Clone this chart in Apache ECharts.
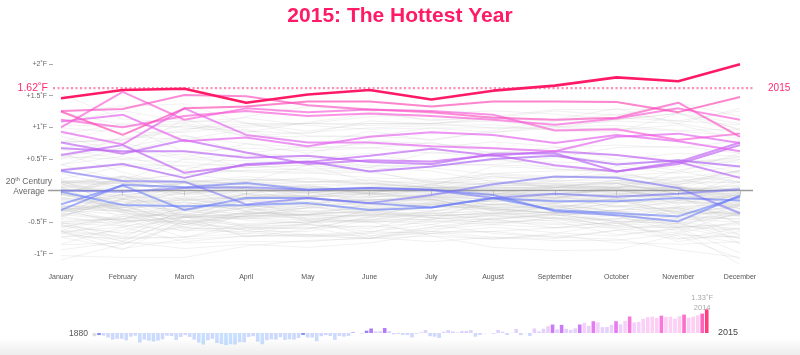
<!DOCTYPE html>
<html><head><meta charset="utf-8">
<script src="https://cdn.jsdelivr.net/npm/echarts@6/dist/echarts.min.js"></script>
<style>html,body{margin:0;padding:0;background:#fff}#c{width:800px;height:355px}</style>
</head><body><div id="c"></div>
<script>
// ---------- DATA (°F anomaly vs 20th-century average) ----------
const months = ['January','February','March','April','May','June','July','August','September','October','November','December'];
const tickValues = [-1, -0.5, 0, 0.5, 1, 1.5, 2];
const tickLabels = ['-1˚F', '-0.5˚F', '', '+0.5˚F', '+1˚F', '+1.5˚F', '+2˚F'];
const avgLabel = ['20', 'th', ' Century', 'Average'];
const avg2015 = 1.62;
const firstYear = 1880;
const calloutYear = 2014;

// annual anomalies 1880..2015
const annual = [
 -0.22,-0.14,-0.18,-0.31,-0.45,-0.40,-0.40,-0.50,-0.25,-0.18,
 -0.65,-0.45,-0.52,-0.58,-0.52,-0.43,-0.18,-0.20,-0.47,-0.27,
 -0.14,-0.27,-0.45,-0.65,-0.79,-0.50,-0.40,-0.68,-0.76,-0.83,
 -0.77,-0.79,-0.63,-0.63,-0.27,-0.22,-0.59,-0.77,-0.49,-0.43,
 -0.45,-0.29,-0.47,-0.43,-0.45,-0.34,-0.13,-0.31,-0.31,-0.56,
 -0.22,-0.14,-0.20,-0.47,-0.20,-0.25,-0.20,0.04,0.00,-0.04,
 0.16,0.31,0.11,0.13,0.34,0.13,-0.09,-0.07,-0.13,-0.14,
 -0.31,-0.05,0.05,0.20,-0.22,-0.25,-0.34,0.09,0.20,0.11,
 0.04,0.13,0.14,0.20,-0.25,-0.13,-0.02,0.00,-0.05,0.20,
 0.09,-0.14,0.02,0.27,-0.14,-0.02,-0.20,0.31,0.11,0.29,
 0.47,0.58,0.25,0.56,0.29,0.22,0.32,0.58,0.70,0.49,
 0.81,0.72,0.40,0.41,0.56,0.81,0.59,0.83,1.13,0.72,
 0.76,0.97,1.08,1.12,1.03,1.19,1.10,1.12,0.97,1.15,
 1.26,1.04,1.12,1.21,1.33,1.62
];

const highlightYears = [1881,1926,1937,1940,1941,1944,1981,1983,1987,1990,1995,1998,2005,2010,2014,2015];

// monthly values of highlighted (record) years
const y1881 = [0.00,-0.02,0.04,0.05,0.01,0.04,0.01,-0.12,-0.05,-0.10,-0.05,0.02];
const y1926 = [-0.02,-0.23,-0.25,-0.23,-0.20,-0.31,-0.27,-0.12,-0.31,-0.36,-0.41,-0.10];
const y1937 = [-0.31,0.09,0.05,0.12,0.01,0.04,0.01,-0.07,-0.33,-0.39,-0.49,-0.08];
const y1940 = [-0.22,0.08,-0.31,-0.12,-0.12,-0.20,-0.27,-0.12,-0.17,-0.17,-0.12,-0.16];
const y1941 = [0.31,0.15,0.14,-0.22,-0.12,-0.20,-0.07,0.10,0.22,0.20,0.04,-0.36];
const y1944 = [0.32,0.42,0.20,0.42,0.46,0.30,0.38,0.50,0.55,0.41,0.48,0.38];
const y1981 = [0.76,0.58,0.80,0.60,0.42,0.48,0.46,0.56,0.40,0.30,0.42,0.72];
const y1983 = [0.67,0.62,0.62,0.52,0.55,0.45,0.42,0.58,0.59,0.30,0.45,0.20];
const y1987 = [0.56,0.72,0.28,0.40,0.45,0.55,0.66,0.55,0.62,0.56,0.45,0.76];
const y1990 = [0.93,0.73,1.30,0.88,0.76,0.76,0.70,0.67,0.62,0.85,0.90,0.75];
const y1995 = [1.09,1.20,0.78,0.84,0.70,0.85,0.92,0.88,0.75,0.88,0.78,0.62];
const y1998 = [1.00,1.56,1.12,1.30,1.24,1.28,1.26,1.20,0.95,0.97,0.80,0.90];
const y2005 = [1.12,1.00,1.18,1.26,1.18,1.22,1.18,1.12,1.04,1.14,1.30,1.12];
const y2010 = [1.26,1.29,1.51,1.49,1.35,1.28,1.24,1.15,1.12,1.15,1.39,0.85];
const y2014 = [1.25,0.88,1.30,1.33,1.41,1.41,1.33,1.41,1.41,1.40,1.24,1.48];
const y2015 = [1.46,1.59,1.61,1.39,1.52,1.59,1.44,1.58,1.66,1.79,1.73,2.00];

// monthly values of the other years, by decade
const grey1880s = [
 [-0.05,-0.30,-0.18,-0.32,-0.16,-0.38,-0.34,-0.14,-0.24,-0.41,-0.36,-0.36],
 [0.14,0.11,0.05,-0.34,-0.24,-0.40,-0.47,-0.13,-0.20,-0.34,-0.31,-0.38],
 [-0.50,-0.76,-0.29,-0.38,-0.27,-0.14,-0.14,-0.32,-0.40,-0.32,-0.50,-0.34],
 [-0.25,-0.29,-0.58,-0.68,-0.54,-0.65,-0.54,-0.36,-0.38,-0.49,-0.52,-0.38],
 [-0.68,-0.50,-0.41,-0.58,-0.54,-0.61,-0.36,-0.32,-0.25,-0.23,-0.34,-0.04],
 [-0.54,-0.68,-0.58,-0.40,-0.38,-0.43,-0.18,-0.38,-0.25,-0.40,-0.47,-0.25],
 [-0.85,-0.58,-0.36,-0.47,-0.52,-0.32,-0.38,-0.45,-0.38,-0.59,-0.58,-0.54],
 [-0.58,-0.41,-0.54,-0.38,-0.27,-0.25,-0.16,-0.18,-0.14,0.07,0.00,-0.11],
 [-0.14,0.22,0.05,0.02,-0.02,-0.18,-0.14,-0.29,-0.36,-0.52,-0.58,-0.52]
];
const grey1890s = [
 [-0.52,-0.56,-0.63,-0.65,-0.65,-0.47,-0.54,-0.68,-0.74,-0.63,-0.77,-0.59],
 [-0.63,-0.72,-0.40,-0.45,-0.38,-0.40,-0.34,-0.36,-0.25,-0.41,-0.59,-0.20],
 [-0.32,-0.22,-0.59,-0.61,-0.59,-0.56,-0.65,-0.43,-0.38,-0.49,-0.81,-0.65],
 [-1.10,-0.85,-0.54,-0.58,-0.61,-0.43,-0.36,-0.47,-0.52,-0.45,-0.50,-0.61],
 [-0.63,-0.41,-0.38,-0.56,-0.47,-0.72,-0.58,-0.45,-0.59,-0.49,-0.45,-0.50],
 [-0.68,-0.79,-0.43,-0.36,-0.38,-0.31,-0.27,-0.25,-0.29,-0.25,-0.41,-0.31],
 [-0.25,-0.25,-0.50,-0.41,-0.23,-0.11,0.02,-0.04,-0.11,0.04,-0.22,-0.07],
 [-0.29,-0.27,-0.23,-0.05,-0.09,-0.22,-0.14,-0.18,-0.13,-0.25,-0.29,-0.36],
 [0.02,-0.45,-0.74,-0.52,-0.50,-0.38,-0.40,-0.36,-0.45,-0.61,-0.67,-0.49],
 [-0.27,-0.49,-0.43,-0.23,-0.34,-0.36,-0.27,-0.14,-0.07,-0.07,0.09,-0.34]
];
const grey1900s = [
 [-0.41,-0.14,-0.05,-0.13,-0.18,-0.09,-0.11,-0.07,-0.05,0.04,-0.14,-0.11],
 [-0.25,-0.22,-0.09,-0.14,-0.22,-0.22,-0.20,-0.27,-0.34,-0.32,-0.45,-0.38],
 [-0.20,-0.07,-0.38,-0.41,-0.43,-0.50,-0.49,-0.54,-0.43,-0.56,-0.59,-0.76],
 [-0.40,-0.16,-0.50,-0.72,-0.72,-0.76,-0.65,-0.74,-0.79,-0.79,-0.68,-0.83],
 [-0.86,-0.83,-0.83,-0.81,-0.81,-0.74,-0.81,-0.74,-0.76,-0.63,-0.52,-0.70],
 [-0.54,-0.81,-0.41,-0.54,-0.50,-0.50,-0.45,-0.40,-0.43,-0.56,-0.27,-0.50],
 [-0.38,-0.47,-0.29,-0.14,-0.45,-0.38,-0.43,-0.34,-0.45,-0.40,-0.65,-0.34],
 [-0.65,-0.85,-0.50,-0.63,-0.74,-0.68,-0.65,-0.65,-0.59,-0.50,-0.76,-0.72],
 [-0.65,-0.58,-0.81,-0.72,-0.70,-0.65,-0.68,-0.77,-0.70,-0.83,-0.85,-0.81],
 [-0.94,-0.81,-0.92,-0.85,-0.90,-0.83,-0.68,-0.58,-0.67,-0.72,-0.59,-0.99]
];
const grey1910s = [
 [-0.72,-0.76,-0.74,-0.68,-0.70,-0.72,-0.68,-0.65,-0.74,-0.77,-0.94,-1.06],
 [-1.03,-1.06,-1.06,-0.88,-0.79,-0.76,-0.72,-0.77,-0.68,-0.52,-0.40,-0.45],
 [-0.59,-0.38,-0.65,-0.38,-0.45,-0.49,-0.72,-0.90,-0.95,-0.94,-0.70,-0.74],
 [-0.65,-0.74,-0.74,-0.59,-0.70,-0.76,-0.61,-0.54,-0.59,-0.58,-0.38,-0.25],
 [0.02,-0.36,-0.40,-0.45,-0.27,-0.32,-0.27,-0.22,-0.29,-0.11,-0.25,-0.23],
 [-0.41,-0.13,-0.40,-0.14,-0.11,-0.23,-0.09,-0.23,-0.23,-0.32,-0.16,-0.23],
 [-0.22,-0.34,-0.61,-0.59,-0.58,-0.76,-0.58,-0.50,-0.54,-0.52,-0.72,-1.08],
 [-0.74,-0.92,-0.77,-0.72,-0.72,-0.67,-0.45,-0.40,-0.49,-0.70,-0.61,-1.17],
 [-0.74,-0.63,-0.41,-0.74,-0.61,-0.41,-0.40,-0.36,-0.27,-0.16,-0.34,-0.36],
 [-0.31,-0.38,-0.41,-0.27,-0.49,-0.47,-0.36,-0.40,-0.34,-0.34,-0.58,-0.63]
];
const grey1920s = [
 [-0.27,-0.34,-0.31,-0.43,-0.47,-0.50,-0.40,-0.38,-0.34,-0.49,-0.52,-0.76],
 [-0.05,-0.32,-0.43,-0.41,-0.38,-0.32,-0.18,-0.27,-0.27,-0.13,-0.29,-0.23],
 [-0.56,-0.68,-0.32,-0.43,-0.52,-0.45,-0.47,-0.50,-0.47,-0.45,-0.25,-0.40],
 [-0.41,-0.56,-0.47,-0.63,-0.52,-0.31,-0.43,-0.47,-0.36,-0.18,-0.16,-0.07],
 [-0.29,-0.54,-0.27,-0.34,-0.36,-0.34,-0.43,-0.52,-0.43,-0.45,-0.34,-0.70],
 [-0.52,-0.50,-0.29,-0.25,-0.47,-0.36,-0.40,-0.20,-0.31,-0.20,0.04,0.02],
 [-0.29,-0.22,-0.52,-0.36,-0.38,-0.34,-0.22,-0.31,-0.20,-0.07,-0.09,-0.54],
 [0.05,-0.31,-0.54,-0.40,-0.40,-0.40,-0.23,-0.29,-0.36,-0.25,-0.20,-0.22],
 [-0.65,-0.94,-0.47,-0.56,-0.54,-0.58,-0.50,-0.45,-0.40,-0.31,-0.27,-0.85]
];
const grey1930s = [
 [-0.38,-0.27,-0.14,-0.25,-0.29,-0.18,-0.22,-0.13,-0.16,-0.14,0.05,-0.09],
 [-0.05,-0.27,-0.11,-0.25,-0.25,-0.02,0.02,-0.07,-0.11,-0.05,-0.20,-0.05],
 [0.18,-0.31,-0.27,-0.05,-0.22,-0.29,-0.23,-0.16,-0.05,-0.11,-0.38,-0.23],
 [-0.45,-0.47,-0.50,-0.34,-0.40,-0.47,-0.32,-0.29,-0.36,-0.38,-0.56,-0.61],
 [-0.34,-0.05,-0.43,-0.27,-0.13,-0.16,-0.11,-0.13,-0.20,-0.09,-0.09,-0.16],
 [-0.45,0.11,-0.29,-0.38,-0.32,-0.29,-0.22,-0.22,-0.20,-0.14,-0.36,-0.25],
 [-0.36,-0.45,-0.25,-0.18,-0.14,-0.16,-0.07,-0.09,-0.07,-0.04,-0.07,0.00],
 [0.16,0.13,0.11,0.05,-0.09,-0.11,-0.05,-0.05,0.04,0.16,0.00,-0.38],
 [-0.07,-0.07,-0.23,-0.11,-0.07,-0.05,-0.04,-0.05,-0.05,0.00,0.04,0.25]
];
const grey1940s = [
 [0.27,0.04,0.11,0.14,0.09,0.11,0.04,0.02,0.07,0.11,0.14,0.13],
 [-0.04,0.14,-0.05,0.11,0.05,-0.05,0.11,0.09,0.16,0.38,0.27,0.38],
 [0.13,-0.07,0.04,0.13,0.04,0.02,0.07,0.38,0.34,0.31,0.07,-0.20],
 [0.05,0.02,-0.05,0.04,-0.22,-0.27,-0.09,-0.13,-0.05,-0.09,-0.05,-0.29],
 [-0.16,-0.23,0.05,0.05,-0.11,0.04,-0.05,-0.07,-0.13,0.11,-0.05,-0.23],
 [0.11,-0.22,-0.32,-0.05,0.04,-0.05,-0.14,-0.13,-0.11,-0.05,-0.11,-0.40],
 [0.11,-0.13,-0.02,-0.11,-0.09,-0.27,-0.20,-0.16,-0.11,-0.07,-0.14,-0.29]
];
const grey1950s = [
 [-0.50,-0.45,-0.18,-0.32,-0.20,-0.14,-0.16,-0.27,-0.22,-0.34,-0.54,-0.38],
 [-0.49,-0.45,-0.34,-0.09,-0.02,-0.07,0.02,0.07,0.14,0.11,-0.05,0.13],
 [0.14,0.14,-0.07,0.04,-0.04,-0.04,0.05,0.04,0.07,0.02,-0.16,0.07],
 [0.11,0.20,0.13,0.22,0.14,0.13,0.04,0.07,0.09,0.11,-0.02,0.09],
 [-0.36,-0.14,-0.25,-0.29,-0.34,-0.29,-0.32,-0.23,-0.14,-0.09,0.07,-0.29],
 [0.04,-0.34,-0.54,-0.34,-0.38,-0.20,-0.25,-0.14,-0.18,-0.14,-0.43,-0.45],
 [-0.31,-0.50,-0.43,-0.36,-0.40,-0.22,-0.25,-0.29,-0.36,-0.31,-0.27,-0.18],
 [-0.27,-0.09,-0.13,0.00,0.05,0.11,0.04,0.13,0.07,0.04,0.13,0.32],
 [0.59,0.29,0.05,0.05,0.07,-0.04,0.09,-0.02,0.04,0.07,0.04,0.07],
 [0.13,0.07,0.18,0.09,0.00,0.07,0.02,0.04,0.02,-0.04,-0.05,0.04]
];
const grey1960s = [
 [-0.04,0.20,-0.50,-0.14,-0.09,0.02,-0.02,0.04,0.05,0.00,-0.11,0.23],
 [0.09,0.23,0.13,0.18,0.13,0.18,0.04,0.05,0.04,0.02,0.04,-0.09],
 [0.07,0.16,0.13,0.02,-0.04,0.04,0.02,0.00,0.05,0.05,0.04,0.02],
 [-0.07,0.23,-0.16,-0.11,-0.04,0.05,0.13,0.20,0.20,0.22,0.20,-0.04],
 [-0.07,-0.14,-0.20,-0.27,-0.20,-0.14,-0.14,-0.31,-0.36,-0.40,-0.32,-0.41],
 [-0.11,-0.22,-0.13,-0.27,-0.11,-0.05,-0.13,-0.07,-0.05,0.00,-0.11,-0.04],
 [-0.18,-0.07,0.02,-0.09,-0.09,0.00,0.05,-0.04,-0.04,-0.13,-0.04,-0.09],
 [-0.11,-0.27,0.00,-0.05,0.09,-0.07,0.02,0.00,0.00,0.11,-0.05,-0.04],
 [-0.34,-0.23,0.13,-0.05,-0.11,-0.04,-0.09,-0.05,-0.07,0.04,-0.05,-0.13],
 [-0.14,-0.13,0.05,0.16,0.18,0.09,0.05,0.07,0.09,0.04,0.20,0.31]
];
const grey1970s = [
 [0.13,0.22,0.04,0.07,0.00,-0.02,-0.02,-0.11,0.05,0.02,0.07,-0.13],
 [-0.04,-0.18,-0.16,-0.07,-0.14,-0.16,-0.07,-0.02,-0.04,-0.02,-0.05,-0.13],
 [-0.31,-0.20,-0.04,0.00,-0.04,0.05,0.02,0.13,0.05,0.13,0.09,0.29],
 [0.34,0.43,0.38,0.29,0.27,0.29,0.14,0.11,0.11,0.13,0.05,-0.04],
 [-0.29,-0.32,-0.14,-0.11,-0.09,-0.09,-0.07,0.02,-0.13,-0.14,-0.13,-0.14],
 [0.07,0.05,0.11,0.02,0.00,-0.04,-0.11,-0.23,-0.09,-0.18,-0.18,-0.20],
 [-0.13,-0.31,-0.38,-0.16,-0.25,-0.18,-0.09,-0.14,-0.07,-0.27,-0.05,0.05],
 [-0.04,0.16,0.25,0.32,0.34,0.36,0.31,0.14,0.11,0.05,0.31,0.13],
 [0.13,0.11,0.14,0.09,0.07,0.00,0.09,-0.07,0.09,0.04,0.22,0.14],
 [0.05,-0.13,0.16,0.11,0.13,0.16,0.09,0.27,0.31,0.32,0.38,0.54]
];
const grey1980s = [
 [0.41,0.54,0.32,0.59,0.54,0.38,0.41,0.40,0.38,0.29,0.49,0.27],
 [0.05,0.14,0.00,0.14,0.20,0.11,0.14,0.09,0.22,0.23,0.29,0.59],
 [0.31,0.14,0.27,0.14,0.40,0.13,0.16,0.27,0.22,0.20,0.04,-0.07],
 [0.14,-0.11,0.13,0.18,0.14,0.11,0.05,0.23,0.16,0.16,0.11,0.13],
 [0.32,0.40,0.31,0.31,0.29,0.20,0.18,0.22,0.14,0.22,0.16,0.22],
 [0.86,0.60,0.86,0.74,0.68,0.68,0.59,0.61,0.59,0.56,0.45,0.49],
 [0.18,0.38,0.40,0.41,0.31,0.31,0.45,0.47,0.45,0.43,0.32,0.49]
];
const grey1990s = [
 [0.68,0.76,0.52,0.74,0.59,0.79,0.74,0.68,0.56,0.45,0.45,0.52],
 [0.65,0.50,0.58,0.36,0.40,0.31,0.11,0.16,0.05,0.16,0.09,0.32],
 [0.54,0.49,0.45,0.36,0.41,0.40,0.36,0.25,0.20,0.27,0.13,0.31],
 [0.41,0.16,0.50,0.56,0.50,0.59,0.41,0.41,0.52,0.68,0.70,0.59],
 [0.41,0.68,0.49,0.47,0.45,0.36,0.61,0.52,0.34,0.29,0.45,0.45],
 [0.54,0.67,0.88,0.59,0.70,0.94,0.79,0.95,1.10,1.21,1.10,1.04],
 [0.77,1.03,0.61,0.67,0.63,0.67,0.76,0.59,0.68,0.72,0.67,0.79]
];
const grey2000s = [
 [0.50,0.85,0.81,0.97,0.67,0.74,0.68,0.77,0.70,0.49,0.59,0.54],
 [0.76,0.79,1.04,0.86,0.92,0.99,1.03,1.04,0.95,0.92,1.22,0.90],
 [1.24,1.33,1.37,1.06,1.06,1.06,1.06,0.99,1.01,0.95,1.04,0.81],
 [1.24,1.04,1.01,1.00,1.06,1.03,1.05,1.17,1.12,1.30,1.06,1.30],
 [1.08,1.26,1.10,1.08,0.86,0.86,0.81,0.92,0.99,1.12,1.22,0.97],
 [0.88,1.06,0.99,0.94,0.90,1.10,1.06,1.13,1.10,1.15,1.10,1.26],
 [1.53,1.13,1.08,1.15,1.03,0.97,0.99,0.99,0.97,0.99,0.94,0.86],
 [0.50,0.59,1.13,0.85,0.86,0.86,0.99,0.92,1.03,1.10,1.06,0.90],
 [0.99,0.92,0.92,1.03,1.06,1.17,1.22,1.26,1.21,1.12,1.22,1.06]
];
const grey2010s = [
 [0.77,0.81,0.97,1.06,0.94,1.06,1.06,1.10,1.01,1.03,0.95,0.97],
 [0.76,0.81,0.94,1.17,1.33,1.26,1.10,1.17,1.28,1.28,1.30,0.95],
 [1.04,1.01,1.06,0.92,1.08,1.21,1.12,1.15,1.26,1.19,1.39,1.17]
];

// ---------- BUILD ----------
const FONT = "'Liberation Sans', Arial, Helvetica, sans-serif";
const stops = [[-0.8,[70,150,255]],[-0.1,[105,118,248]],[0.35,[165,100,245]],[0.8,[225,100,240]],[1.2,[250,95,210]],[1.62,[255,26,102]]];
function colorFor(v, a) {
  let c = stops[0][1];
  if (v >= stops[stops.length-1][0]) c = stops[stops.length-1][1];
  else for (let i = 0; i < stops.length-1; i++) {
    const [v0,c0] = stops[i], [v1,c1] = stops[i+1];
    if (v >= v0 && v <= v1) { const t=(v-v0)/(v1-v0); c=c0.map((x,k)=>Math.round(x+(c1[k]-x)*t)); break; }
  }
  return `rgba(${c[0]},${c[1]},${c[2]},${a})`;
}
const mean = arr => arr.reduce((s,x)=>s+x,0)/arr.length;

const highlightLines = {1881:y1881,1926:y1926,1937:y1937,1940:y1940,1941:y1941,1944:y1944,1981:y1981,1983:y1983,1987:y1987,1990:y1990,1995:y1995,1998:y1998,2005:y2005,2010:y2010,2014:y2014};
const greyAll = [].concat(grey1880s,grey1890s,grey1900s,grey1910s,grey1920s,grey1930s,grey1940s,grey1950s,grey1960s,grey1970s,grey1980s,grey1990s,grey2000s,grey2010s);
const years = annual.map((_,i)=>String(firstYear+i));
const hiddenSym = {symbol:'circle', symbolSize:0.1, showSymbol:true, itemStyle:{color:'rgba(0,0,0,0)'}};

const series = [];
greyAll.forEach(row => series.push({
  type:'line', data:row, symbol:'none', silent:true, z:1,
  lineStyle:{color:'#c4c4c4', width:1, opacity:0.24}
}));
// 20th century average line
series.push(Object.assign({
  type:'line', xAxisIndex:1, yAxisIndex:1, silent:true, z:2,
  lineStyle:{color:'#9c9c9c', width:1.5},
  data:[{value:[0,0], label:{show:true, position:'left', distance:19, align:'center', offset:[0,-4],
        formatter:`{n|${avgLabel[0]}}{s|${avgLabel[1]}}{n|${avgLabel[2]}}\n{n|${avgLabel[3]}}`,
        rich:{n:{fontSize:8.5, color:'#666', lineHeight:10, fontFamily:FONT}, s:{fontSize:5.5, color:'#666', lineHeight:6, verticalAlign:'top', fontFamily:FONT}}}},
        [1,0]]
}, hiddenSym));
Object.keys(highlightLines).map(Number).sort((a,b)=>mean(highlightLines[a])-mean(highlightLines[b])).forEach(yr => {
  const d = highlightLines[yr];
  const m = mean(d);
  series.push({type:'line', name:String(yr), data:d, symbol:'none', silent:true, z:3,
    lineStyle:{color:colorFor(m,1), width:2, opacity: m < 0.25 ? 0.58 : 0.68}});
});
// 2015 annual average dotted line
series.push(Object.assign({
  type:'line', xAxisIndex:2, yAxisIndex:2, silent:true, z:4,
  lineStyle:{color:'#ff8db3', width:2.2, type:[2,2.5]},
  data:[{value:[0,avg2015], label:{show:true, position:'left', distance:5, formatter: avg2015.toFixed(2)+'˚F', color:'#ff2a72', fontSize:10.5, fontFamily:FONT}},
        {value:[1,avg2015], label:{show:true, position:'right', distance:14, formatter:String(firstYear+annual.length-1), color:'#ff2a72', fontSize:10, fontFamily:FONT}}]
}, hiddenSym));
series.push({type:'line', name:'2015', data:y2015, symbol:'none', silent:true, z:5,
  lineStyle:{color:'#ff1a66', width:2.6}});
// annual bars
series.push({
  type:'bar', xAxisIndex:3, yAxisIndex:3, barCategoryGap:'20%', silent:true, z:2,
  data: annual.map((v,i)=>{
    const yr = firstYear+i;
    const hl = highlightYears.includes(yr);
    const item = {value:v, itemStyle:{color: yr===firstYear ? '#dddddd' : colorFor(v, hl?0.85:0.3)}};
    if (yr === calloutYear) item.label = {show:true, position:'top', distance:1,
      formatter:`${v.toFixed(2)}˚F\n${yr}`, color:'#a8a8a8', fontSize:7.5, lineHeight:10, fontFamily:FONT};
    return item;
  })
});

const option = {
  animation:false,
  backgroundColor:'#fff',
  title:{text:'2015: The Hottest Year', left:'center', top:1,
    textStyle:{color:'#ff1a66', fontSize:21, fontWeight:'bold', fontFamily:FONT}},
  grid:[
    {left:61, right:60, top:51.5, bottom:88.7},
    {left:48, right:47, top:51.5, bottom:88.7},
    {left:53, right:46, top:51.5, bottom:88.7},
    {left:92.2, right:91, top:308.2, bottom:7.4}
  ],
  xAxis:[
    {gridIndex:0, type:'category', data:months, boundaryGap:false,
     axisLine:{lineStyle:{color:'#c6c6c6', width:1}}, axisTick:{length:5, lineStyle:{color:'#c6c6c6'}},
     axisLabel:{fontSize:7, color:'#555', margin:7, fontFamily:FONT}, splitLine:{show:false}},
    {gridIndex:1, type:'value', min:0, max:1, show:false},
    {gridIndex:2, type:'value', min:0, max:1, show:false},
    {gridIndex:3, type:'category', data:years, show:false}
  ],
  yAxis:[
    {gridIndex:0, type:'value', min:-1.2, max:2.2, offset:8,
     axisLine:{show:false},
     axisTick:{show:true, length:4, customValues:tickValues, lineStyle:{color:'#aaa'}},
     axisLabel:{customValues:tickValues, fontSize:7, color:'#666', margin:6, fontFamily:FONT,
       formatter:v=>{const i=tickValues.indexOf(v); return i>=0?tickLabels[i]:'';}},
     splitLine:{show:false}},
    {gridIndex:1, type:'value', min:-1.2, max:2.2, show:false},
    {gridIndex:2, type:'value', min:-1.2, max:2.2, show:false},
    {gridIndex:3, type:'value', min:-1, max:1.7, show:false}
  ],
  graphic:[
    {type:'rect', left:0, top:338, shape:{width:800, height:17}, silent:true, z:-1,
     style:{fill:{type:'linear', x:0, y:0, x2:0, y2:1, colorStops:[{offset:0,color:'rgba(0,0,0,0)'},{offset:1,color:'rgba(0,0,0,0.07)'}]}}},
    {type:'text', right:712, top:329, style:{text:String(firstYear), fill:'#555', fontSize:8.5, fontFamily:FONT}},
    {type:'text', left:718, top:328.5, style:{text:String(firstYear+annual.length-1), fill:'#444', fontSize:9, fontFamily:FONT}}
  ],
  series
};
echarts.init(document.getElementById('c'), null, {renderer:'canvas'}).setOption(option);
</script></body></html>
